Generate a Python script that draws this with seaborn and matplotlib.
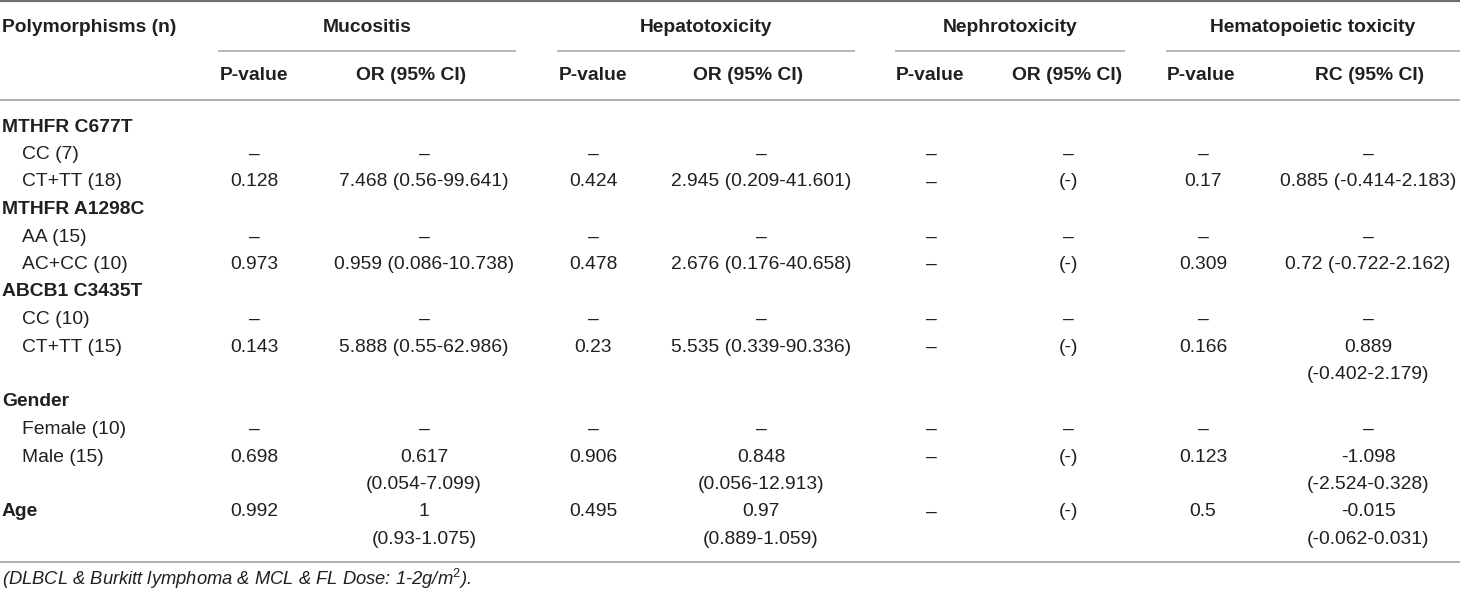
import matplotlib
matplotlib.use("Agg")
import matplotlib.pyplot as plt
import seaborn as sns

# table contents
row_labels = ["MTHFR C677T", "CC (7)", "CT+TT (18)",
              "MTHFR A1298C", "AA (15)", "AC+CC (10)",
              "ABCB1 C3435T", "CC (10)", "CT+TT (15)",
              "Gender", "Female (10)", "Male (15)", "Age"]
row_is_group = [True, False, False, True, False, False, True, False, False,
                True, False, False, True]

groups = ["Mucositis", "Hepatotoxicity", "Nephrotoxicity", "Hematopoietic toxicity"]
sub_headers = ["P-value", "OR (95% CI)", "P-value", "OR (95% CI)",
               "P-value", "OR (95% CI)", "P-value", "RC (95% CI)"]

mucositis_p = ["", "–", "0.128", "", "–", "0.973", "", "–", "0.143", "", "–", "0.698", "0.992"]
mucositis_or = ["", "–", "7.468 (0.56-99.641)", "", "–", "0.959 (0.086-10.738)", "", "–",
                "5.888 (0.55-62.986)", "", "–", "0.617\n(0.054-7.099)", "1\n(0.93-1.075)"]
hepato_p = ["", "–", "0.424", "", "–", "0.478", "", "–", "0.23", "", "–", "0.906", "0.495"]
hepato_or = ["", "–", "2.945 (0.209-41.601)", "", "–", "2.676 (0.176-40.658)", "", "–",
             "5.535 (0.339-90.336)", "", "–", "0.848\n(0.056-12.913)", "0.97\n(0.889-1.059)"]
nephro_p = ["", "–", "–", "", "–", "–", "", "–", "–", "", "–", "–", "–"]
nephro_or = ["", "–", "(-)", "", "–", "(-)", "", "–", "(-)", "", "–", "(-)", "(-)"]
hemato_p = ["", "–", "0.17", "", "–", "0.309", "", "–", "0.166", "", "–", "0.123", "0.5"]
hemato_rc = ["", "–", "0.885 (-0.414-2.183)", "", "–", "0.72 (-0.722-2.162)", "", "–",
             "0.889\n(-0.402-2.179)", "", "–", "-1.098\n(-2.524-0.328)", "-0.015\n(-0.062-0.031)"]

footnote = "(DLBCL & Burkitt lymphoma & MCL & FL Dose: 1-2g/m$^2$)."

columns = [mucositis_p, mucositis_or, hepato_p, hepato_or,
           nephro_p, nephro_or, hemato_p, hemato_rc]

# layout (pixels)
group_spans = [(218, 516), (557, 855), (895, 1125), (1166, 1460)]
head_x = [254, 411, 593, 748, 930, 1067, 1201, 1370]
body_x = [254, 424, 593, 761, 931, 1068, 1203, 1368]
y_first = 127
step = 27.5

sns.set_theme(style="white")
plt.rcParams["font.family"] = ["Liberation Sans", "DejaVu Sans"]
plt.rcParams["mathtext.fontset"] = "custom"
plt.rcParams["mathtext.it"] = "Liberation Sans:italic"
plt.rcParams["mathtext.rm"] = "Liberation Sans"

txt = "#231f20"
fs = 13.9

fig = plt.figure(figsize=(14.6, 5.92), dpi=100)
ax = fig.add_axes([0, 0, 1, 1])
ax.set_xlim(0, 1460)
ax.set_ylim(592, 0)
ax.axis("off")

# rules
ax.hlines(1, 0, 1460, color="#6d6e70", lw=1.6)
for x0, x1 in group_spans:
    ax.hlines(51, x0, x1, color="#a7a9ac", lw=1.2)
ax.hlines(100, 0, 1460, color="#a7a9ac", lw=1.3)

# header
ax.text(2, 27, "Polymorphisms (n)", ha="left", va="center", fontsize=fs,
        fontweight="bold", color=txt)
for (x0, x1), g in zip(group_spans, groups):
    ax.text((x0 + x1) / 2, 27, g, ha="center", va="center", fontsize=fs,
            fontweight="bold", color=txt)
for x, h in zip(head_x, sub_headers):
    ax.text(x, 76, h, ha="center", va="center", fontsize=fs,
            fontweight="bold", color=txt)

# body
slot = 0
for i, lab in enumerate(row_labels):
    y = y_first + slot * step
    if row_is_group[i]:
        ax.text(2, y, lab, ha="left", va="center", fontsize=fs,
                fontweight="bold", color=txt)
    else:
        ax.text(22, y, lab, ha="left", va="center", fontsize=fs, color=txt)
    n_lines = 1
    for x, col in zip(body_x, columns):
        parts = col[i].split("\n") if col[i] else []
        for k, p in enumerate(parts):
            ax.text(x, y + k * step, p, ha="center", va="center",
                    fontsize=fs, color=txt)
        n_lines = max(n_lines, len(parts))
    slot += n_lines

ax.hlines(562, 0, 1460, color="#a7a9ac", lw=1.3)
ax.text(2, 579, footnote, ha="left", va="center", fontsize=13.2,
        fontstyle="italic", color=txt)

fig.savefig("out.png", dpi=100, facecolor="white")
